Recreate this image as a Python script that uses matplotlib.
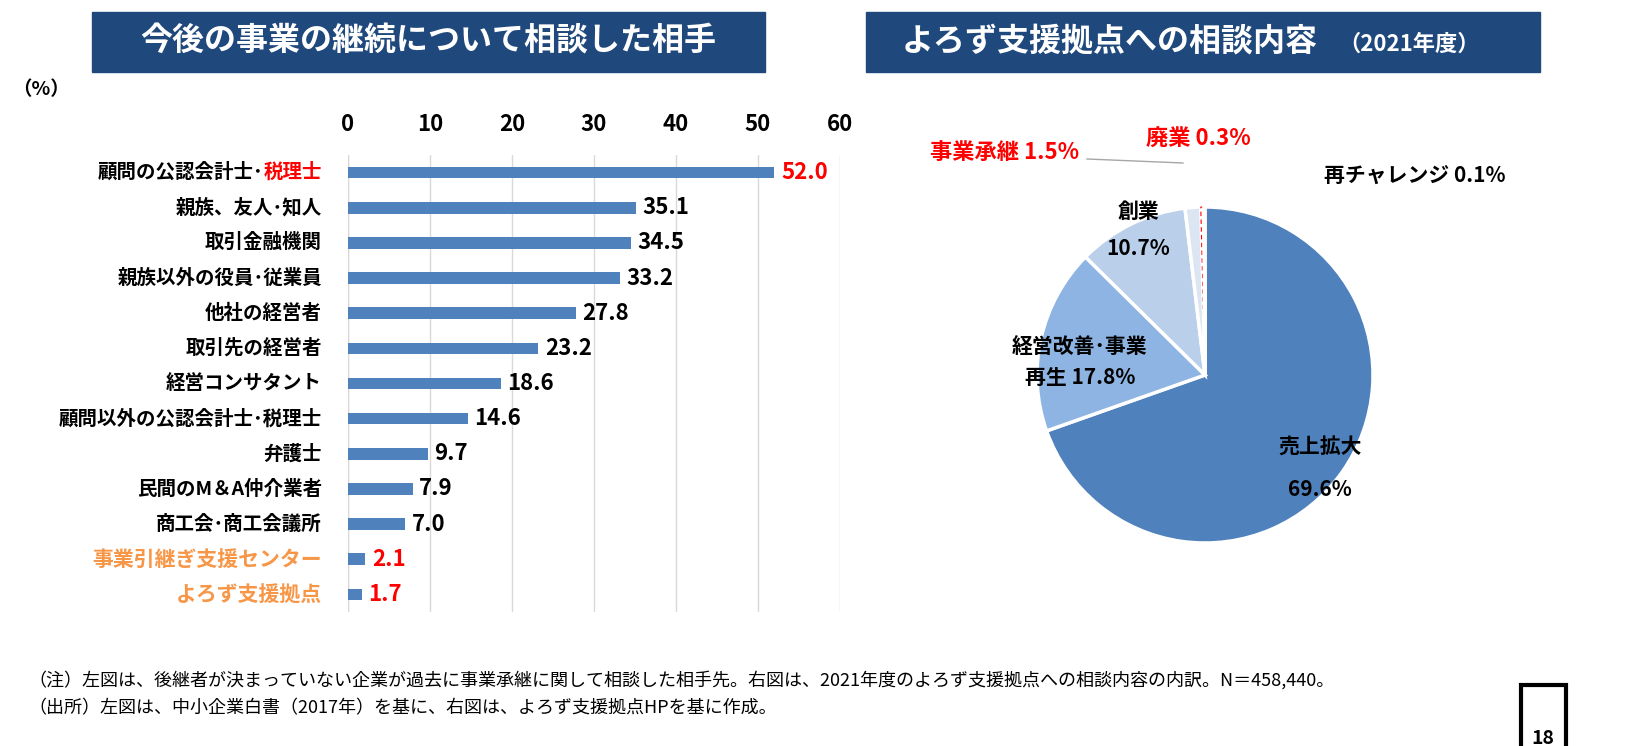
import matplotlib
matplotlib.use("Agg")
import matplotlib.pyplot as plt
from matplotlib.patches import Rectangle
import numpy as np

plt.rcParams['font.family'] = ['Noto Sans CJK JP', 'DejaVu Sans']

categories = ["顧問の公認会計士･税理士", "親族、友人･知人", "取引金融機関", "親族以外の役員･従業員",
              "他社の経営者", "取引先の経営者", "経営コンサタント", "顧問以外の公認会計士･税理士",
              "弁護士", "民間のM＆A仲介業者", "商工会･商工会議所", "事業引継ぎ支援センター", "よろず支援拠点"]
values = [52.0, 35.1, 34.5, 33.2, 27.8, 23.2, 18.6, 14.6, 9.7, 7.9, 7.0, 2.1, 1.7]
xticks = [0, 10, 20, 30, 40, 50, 60]

pie_labels = ["売上拡大", "経営改善･事業\n再生", "創業", "事業承継", "廃業", "再チャレンジ"]
pie_values = [69.6, 17.8, 10.7, 1.5, 0.3, 0.1]

W, H = 1625, 746
fig = plt.figure(figsize=(W/100, H/100), dpi=100)
def fx(x): return x / W
def fy(y): return 1 - y / H

navy = "#1F497D"
for (x0, x1) in [(92, 765), (866, 1540)]:
    fig.patches.append(Rectangle((fx(x0), fy(72)), fx(x1 - x0), (72 - 12) / H,
                                 transform=fig.transFigure, color=navy, zorder=0))
fig.text(fx(428), fy(42), "今後の事業の継続について相談した相手", color="white", fontsize=23,
         fontweight="bold", ha="center", va="center")
fig.text(fx(1110), fy(42), "よろず支援拠点への相談内容", color="white", fontsize=23,
         fontweight="bold", ha="center", va="center")
fig.text(fx(1338), fy(44), "（2021年度）", color="white", fontsize=16,
         fontweight="bold", ha="left", va="center")
fig.text(fx(12), fy(90), "（%）", fontsize=14, fontweight="bold", ha="left", va="center")

ax = fig.add_axes([fx(348), fy(612), fx(840 - 348), (612 - 155) / H])
y = np.arange(len(values))
ax.barh(y, values, height=0.33, color="#4F81BD", zorder=3)
ax.set_ylim(len(values) - 0.5, -0.5)
ax.set_xlim(0, 60)
ax.set_xticks(xticks)
ax.xaxis.tick_top()
ax.tick_params(axis='x', length=0, labelsize=16, pad=14)
for lab in ax.get_xticklabels():
    lab.set_fontweight("bold")
ax.set_yticks([])
ax.grid(axis='x', color="#D9D9D9", lw=1, zorder=0)
for s in ax.spines.values():
    s.set_visible(False)
ax.axvline(0, color="#D9D9D9", lw=1)
red_vals = {0, 11, 12}
for i, v in enumerate(values):
    ax.text(v + 0.8, i, f"{v:.1f}", va="center", ha="left", fontsize=16, fontweight="bold",
            color="#FF0000" if i in red_vals else "black")
orange = "#F79646"
lx = fx(322)
for i, c in enumerate(categories):
    yy = fig.transFigure.inverted().transform(ax.transData.transform((0, i)))[1]
    if i == 0:
        t2 = fig.text(lx, yy, "税理士", ha="right", va="center", fontsize=14, fontweight="bold", color="#FF0000")
        r = fig.canvas.get_renderer()
        w = t2.get_window_extent(r).width / W
        fig.text(lx - w, yy, "顧問の公認会計士･", ha="right", va="center", fontsize=14, fontweight="bold")
    else:
        col = orange if i >= 11 else "black"
        fs = 15 if i >= 11 else 14
        fig.text(lx, yy, c, ha="right", va="center", fontsize=fs, fontweight="bold", color=col)

r = 210
axp = fig.add_axes([fx(1205 - r), fy(375 + r), fx(2 * r), 2 * r / H])
colors = ["#4F81BD", "#8DB4E2", "#B9CFEA", "#DCE6F2", "#FFFFFF", "#FFFFFF"]
wedges, _ = axp.pie(pie_values, colors=colors, startangle=90, counterclock=False,
                    wedgeprops=dict(edgecolor="white", linewidth=2.5))
wedges[4].set_edgecolor("#FF0000"); wedges[4].set_linestyle((0, (4, 3))); wedges[4].set_linewidth(0.8)
axp.set_aspect('equal')
tk = dict(fontsize=15, fontweight="bold", ha="center", va="center")
fig.text(fx(1320), fy(468), "売上拡大\n\n69.6%", linespacing=1.0, **tk)
fig.text(fx(1080), fy(362), pie_labels[1] + " 17.8%", linespacing=1.6, **tk)
fig.text(fx(1138), fy(230), "創業\n10.7%", linespacing=1.9, **tk)
fig.text(fx(1005), fy(152), "事業承継 1.5%", fontsize=16, fontweight="bold", color="#FF0000", ha="center", va="center")
fig.text(fx(1198), fy(138), "廃業 0.3%", fontsize=16, fontweight="bold", color="#FF0000", ha="center", va="center")
fig.text(fx(1415), fy(175), "再チャレンジ 0.1%", fontsize=15, fontweight="bold", ha="center", va="center")
fig.lines.append(plt.Line2D([fx(1087), fx(1183)], [fy(159), fy(163)], transform=fig.transFigure,
                            color="#A6A6A6", lw=1))

fig.text(fx(28), fy(680), "（注）左図は、後継者が決まっていない企業が過去に事業承継に関して相談した相手先。右図は、2021年度のよろず支援拠点への相談内容の内訳。N＝458,440。",
         fontsize=13, ha="left", va="center")
fig.text(fx(28), fy(708), "（出所）左図は、中小企業白書（2017年）を基に、右図は、よろず支援拠点HPを基に作成。",
         fontsize=13, ha="left", va="center")
fig.patches.append(Rectangle((fx(1521), fy(760)), fx(45), 75 / H, transform=fig.transFigure,
                             fill=False, edgecolor="black", lw=3))
fig.text(fx(1543), fy(738), "18", fontsize=14, fontweight="bold", ha="center", va="center")

fig.savefig("out.png", dpi=100)
